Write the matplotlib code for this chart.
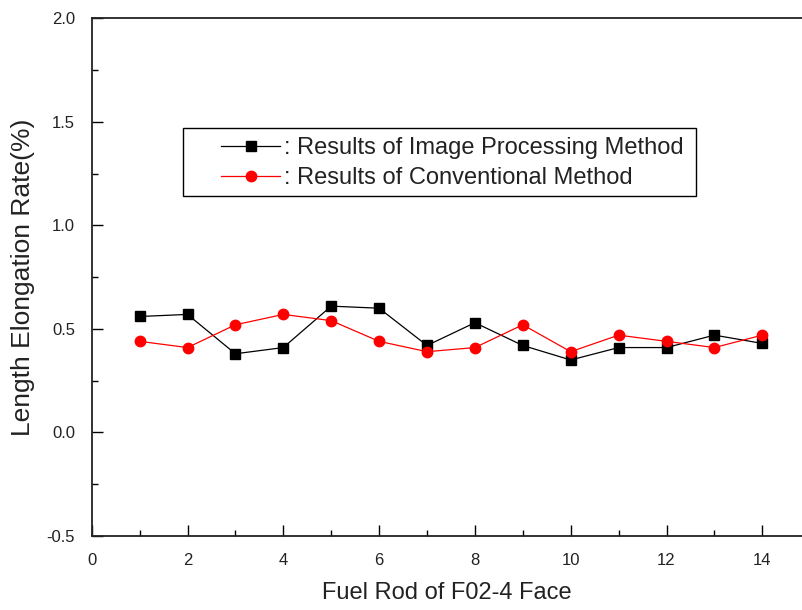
import matplotlib
matplotlib.use("Agg")
import matplotlib.pyplot as plt
from matplotlib.patches import Rectangle
from matplotlib.ticker import MultipleLocator

plt.rcParams['font.family'] = ['Liberation Sans', 'DejaVu Sans']

rods = [1, 2, 3, 4, 5, 6, 7, 8, 9, 10, 11, 12, 13, 14]
image_method = [0.56, 0.57, 0.38, 0.41, 0.61, 0.60, 0.42, 0.53, 0.42, 0.35, 0.41, 0.41, 0.47, 0.43]
conv_method = [0.44, 0.41, 0.52, 0.57, 0.54, 0.44, 0.39, 0.41, 0.52, 0.39, 0.47, 0.44, 0.41, 0.47]
label_image = ": Results of Image Processing Method"
label_conv = ": Results of Conventional Method"
xticks = [0, 2, 4, 6, 8, 10, 12, 14]
yticks = [-0.5, 0.0, 0.5, 1.0, 1.5, 2.0]

W, H = 802, 610
fig = plt.figure(figsize=(W / 100, H / 100), dpi=100)
ax = fig.add_axes([91.7 / W, 1 - 536 / H, 1 - 91.7 / W, (536 - 18.3) / H])

l1, = ax.plot(rods, image_method, color='black', lw=0.9, marker='s', ms=6.5,
              mfc='black', mec='black', label=label_image)
l2, = ax.plot(rods, conv_method, color='red', lw=0.9, marker='o', ms=7.5,
              mfc='red', mec='red', label=label_conv)

ax.set_xlim(0, (W - 91.7) / 47.9)
ax.set_ylim(-0.5, 2.0)
ax.set_xticks(xticks)
ax.set_yticks(yticks)
ax.set_yticklabels([f"{v:.1f}" for v in yticks])
ax.xaxis.set_minor_locator(MultipleLocator(1))
ax.yaxis.set_minor_locator(MultipleLocator(0.25))
ax.tick_params(which='both', direction='in', color='black', width=1.0)
ax.tick_params(which='major', length=8, labelsize=12, pad=12, labelcolor='#222222')
ax.tick_params(which='minor', length=4)
ax.tick_params(axis='y', which='major', pad=12)
ax.spines['right'].set_visible(False)
for s in ['left', 'top', 'bottom']:
    ax.spines[s].set_linewidth(1.3)
    ax.spines[s].set_color('#222222')

ax.set_xlabel("Fuel Rod of F02-4 Face", fontsize=17, labelpad=10, color='#222222')
ax.set_ylabel("Length Elongation Rate(%)", fontsize=19, labelpad=8, color='#222222')

# legend box
fig.patches.append(Rectangle((183 / W, 1 - 196 / H), (696 - 183) / W, (196 - 128) / H,
                             transform=fig.transFigure, fill=False, ec='black', lw=1.0))
leg = ax.legend(handles=[l1, l2], loc='center left', frameon=False,
                bbox_to_anchor=(221 / W, 1 - 163 / H), bbox_transform=fig.transFigure,
                fontsize=17, handlelength=2.5, handletextpad=0.15, labelspacing=0.35,
                borderpad=0, borderaxespad=0)
for t in leg.get_texts():
    t.set_color('#222222')

fig.savefig("out.png", dpi=100)
